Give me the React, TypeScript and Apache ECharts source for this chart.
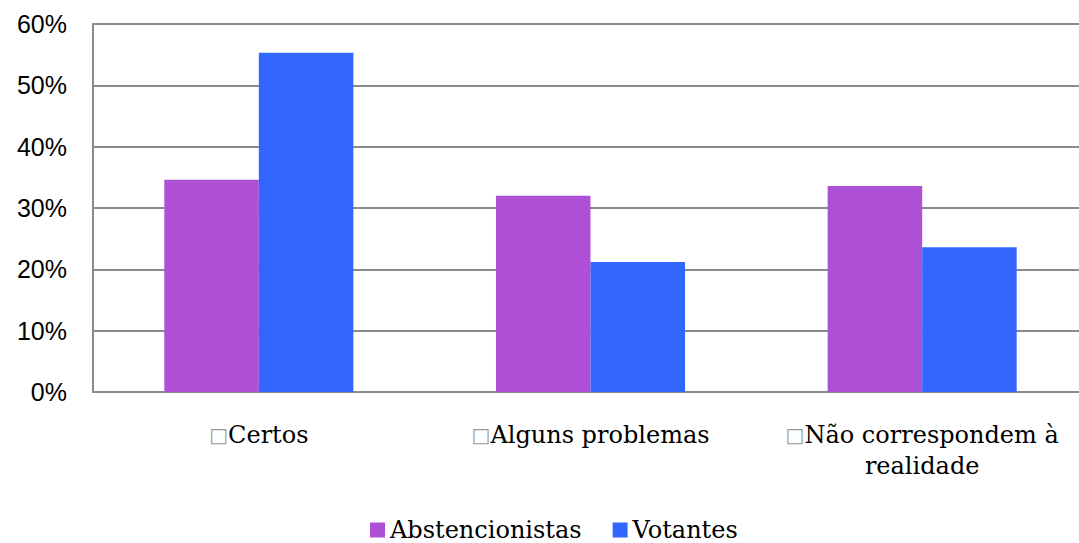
import React, { useEffect, useRef } from "react";
import * as echarts from "echarts";

const categories = ["Certos", "Alguns problemas", "Não correspondem à\nrealidade"];
const abstencionistas = [34.6, 32.0, 33.6];
const votantes = [55.3, 21.2, 23.6];
const seriesNames = ["Abstencionistas", "Votantes"];
const colors = ["#AE50D6", "#3366FF"];

export default function App() {
  const ref = useRef<HTMLDivElement>(null);
  useEffect(() => {
    if (!ref.current) return;
    const chart = echarts.init(ref.current, null, { renderer: "svg" });
    const slab = "'DejaVu Serif', serif";
    chart.setOption({
      animation: false,
      grid: { left: 93, right: 0, top: 24, bottom: 151, containLabel: false },
      legend: {
        bottom: 0,
        left: 365,
        padding: [0, 5, 1, 5],
        itemWidth: 15,
        itemHeight: 15,
        itemGap: 31,
        icon: "rect",
        textStyle: { fontFamily: slab, fontSize: 24, color: "#000" },
        data: seriesNames,
      },
      xAxis: {
        type: "category",
        data: categories,
        axisLine: { lineStyle: { color: "#8a8a8a", width: 2 } },
        axisTick: { show: false },
        axisLabel: {
          interval: 0,
          margin: 27,
          fontFamily: slab,
          fontSize: 24,
          color: "#000",
          lineHeight: 31,
          formatter: (v: string) => "{b|\u25A1}" + v,
          rich: {
            b: { fontFamily: "'DejaVu Sans', sans-serif", fontSize: 20, color: "#999", lineHeight: 31 },
          },
        },
      },
      yAxis: {
        type: "value",
        min: 0,
        max: 60,
        interval: 10,
        axisLine: { show: true, lineStyle: { color: "#8a8a8a", width: 2 } },
        axisTick: { show: false },
        splitLine: { lineStyle: { color: "#8a8a8a", width: 2 } },
        axisLabel: {
          formatter: "{value}%",
          fontFamily: "'Liberation Sans', Arial, sans-serif",
          fontSize: 25,
          color: "#000",
          margin: 26,
        },
      },
      series: [
        {
          name: seriesNames[0],
          type: "bar",
          data: abstencionistas,
          barWidth: "28.5%",
          barGap: "0%",
          itemStyle: { color: colors[0] },
        },
        {
          name: seriesNames[1],
          type: "bar",
          data: votantes,
          barWidth: "28.5%",
          barGap: "0%",
          itemStyle: { color: colors[1] },
        },
      ],
    });
    return () => chart.dispose();
  }, []);
  return (
    <div style={{ width: 1079, height: 543, position: "absolute", left: 0, top: 0, overflow: "hidden" }}>
      <div ref={ref} style={{ width: 1088, height: 543 }} />
    </div>
  );
}
